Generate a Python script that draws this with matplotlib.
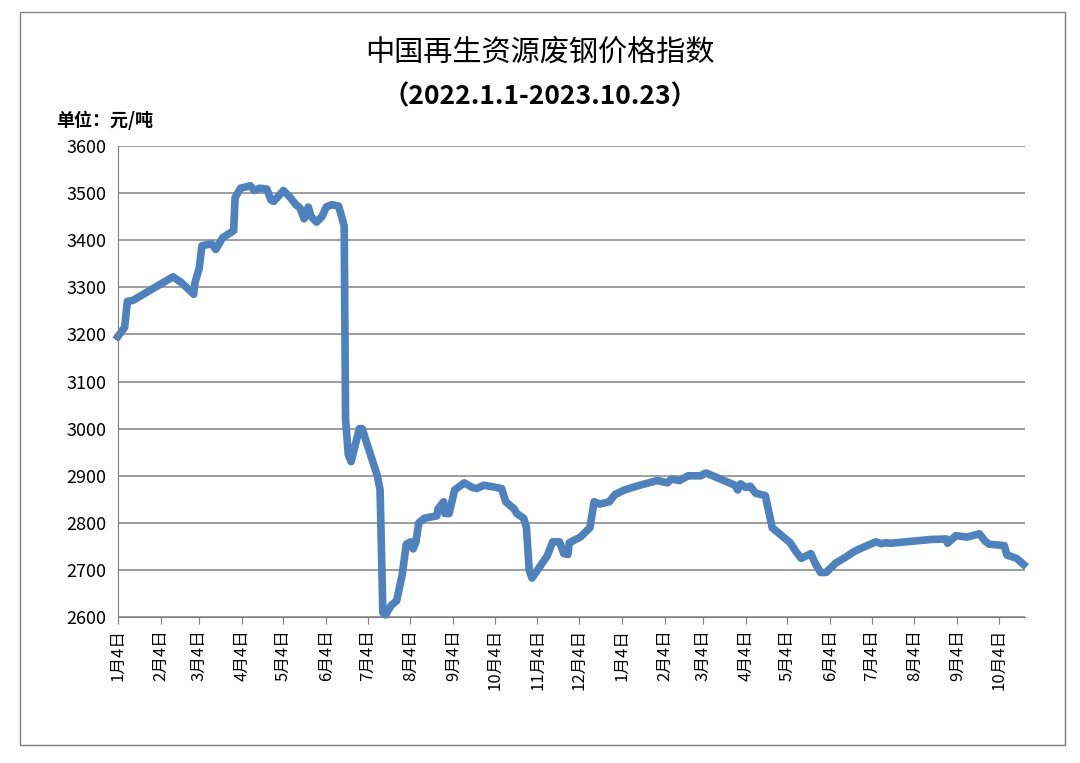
import matplotlib
matplotlib.use("Agg")
import matplotlib.pyplot as plt
import numpy as np
import pandas as pd
from matplotlib.patches import Rectangle

plt.rcParams["font.family"] = ["Noto Sans CJK SC", "DejaVu Sans"]

# days since 2022-01-04
day_offsets = [0, 5, 7, 11, 40, 46, 55, 56, 59, 61, 68, 71, 76, 84, 85, 89, 96, 99, 103, 108,
               111, 113, 120, 125, 129, 132, 135, 138, 140, 144, 148, 151, 155, 160, 164, 165,
               167, 169, 175, 177, 188, 190, 192, 194, 198, 202, 206, 209, 212, 214, 216, 218,
               222, 231, 232, 236, 237, 240, 244, 251, 257, 260, 265, 271, 278, 281, 287, 289,
               294, 296, 298, 300, 311, 315, 320, 323, 326, 327, 335, 342, 345, 349, 356, 360,
               367, 378, 391, 398, 401, 407, 413, 422, 426, 431, 447, 449, 451, 455, 458, 462,
               469, 474, 487, 491, 495, 502, 505, 509, 513, 520, 527, 532, 535, 549, 553, 556,
               560, 589, 600, 601, 607, 615, 624, 628, 631, 642, 644, 651, 656]
index_values = [3195, 3215, 3270, 3272, 3322, 3310, 3285, 3310, 3340, 3388, 3392, 3380, 3405,
                3420, 3490, 3510, 3515, 3505, 3510, 3508, 3485, 3482, 3505, 3490, 3475, 3468,
                3445, 3470, 3450, 3438, 3450, 3470, 3475, 3472, 3430, 3020, 2945, 2930, 3000,
                3000, 2900, 2870, 2610, 2605, 2625, 2635, 2690, 2755, 2760, 2745, 2760, 2800,
                2810, 2815, 2830, 2845, 2820, 2820, 2870, 2885, 2875, 2873, 2880, 2877, 2873,
                2845, 2830, 2820, 2810, 2790, 2700, 2683, 2730, 2760, 2760, 2735, 2733, 2758,
                2770, 2790, 2845, 2840, 2845, 2860, 2870, 2880, 2890, 2885, 2893, 2890, 2900,
                2900, 2906, 2900, 2880, 2870, 2883, 2875, 2878, 2863, 2858, 2790, 2758, 2740,
                2725, 2735, 2715, 2695, 2695, 2715, 2727, 2737, 2742, 2760, 2756, 2758, 2757,
                2765, 2766, 2757, 2773, 2770, 2777, 2762, 2755, 2752, 2732, 2725, 2712]

start = pd.Timestamp("2022-01-04")
end = pd.Timestamp("2023-10-23")
dates = start + pd.to_timedelta(day_offsets, unit="D")

tick_dates = pd.date_range("2022-01-01", "2023-10-01", freq="MS") + pd.Timedelta(days=3)
tick_labels = [f"{d.month}月4日" for d in tick_dates]

fig = plt.figure(figsize=(10.8, 7.63), dpi=100)
fig.patches.append(Rectangle((20 / 1080, 18 / 763), 1045 / 1080, 733 / 763,
                             transform=fig.transFigure, fill=False,
                             edgecolor="#7f7f7f", linewidth=1))
ax = fig.add_axes([0.109, 0.191, 0.840, 0.618])

ax.plot(dates, index_values, color="#4F81BD", linewidth=5.5, solid_joinstyle="round",
        clip_on=False)

ax.set_xlim(start, end)
ax.set_ylim(2600, 3600)
ax.set_yticks(np.arange(2600, 3601, 100))
ax.tick_params(axis="y", labelsize=13, length=0, pad=8)
ax.set_xticks(tick_dates)
ax.set_xticklabels(tick_labels, rotation=90, fontsize=12)
ax.tick_params(axis="x", length=5, direction="out", color="#808080")
ax.grid(True, axis="y", color="#8c8c8c", linewidth=1.2)
ax.set_axisbelow(True)
for side in ("top", "right"):
    ax.spines[side].set_visible(False)
for side in ("left", "bottom"):
    ax.spines[side].set_color("#808080")

fig.text(0.5, 0.92, "中国再生资源废钢价格指数", ha="center", fontsize=21)
fig.text(0.5, 0.863, "（2022.1.1-2023.10.23）", ha="center", fontsize=19, fontweight="bold")
fig.text(0.052, 0.835, "单位：元/吨", fontsize=13, fontweight="bold")

fig.savefig("out.png", dpi=100)
